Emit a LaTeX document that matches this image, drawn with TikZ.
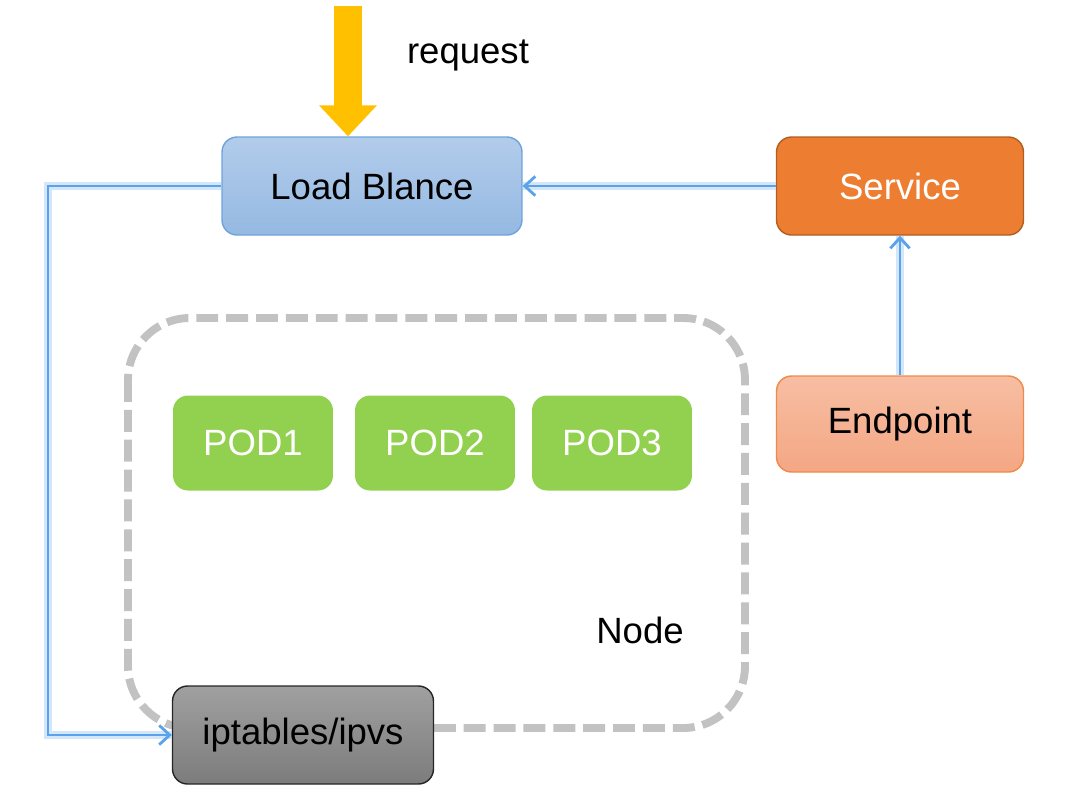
\documentclass[tikz,border=0pt]{standalone}
\usepackage{fontspec}
\setmainfont{Liberation Sans}
\usepackage{tikz}
\usetikzlibrary{arrows.meta}

\definecolor{lbtop}{HTML}{B2CCEB}
\definecolor{lbbot}{HTML}{95B9E2}
\definecolor{lbline}{HTML}{6FA3DC}
\definecolor{svcfill}{HTML}{ED7D31}
\definecolor{svcline}{HTML}{B05E22}
\definecolor{eptop}{HTML}{F7BEA3}
\definecolor{epbot}{HTML}{F4A783}
\definecolor{epline}{HTML}{F08A4B}
\definecolor{podfill}{HTML}{92D050}
\definecolor{iptop}{HTML}{A0A0A0}
\definecolor{ipbot}{HTML}{7C7C7C}
\definecolor{dashgray}{HTML}{C2C2C2}
\definecolor{linkblue}{HTML}{5AA2EA}
\definecolor{glowblue}{HTML}{C2DDF8}
\definecolor{reqyellow}{HTML}{FFC000}

\begin{document}
\begin{tikzpicture}[x=0.02cm,y=-0.02cm,
    font=\fontsize{20.8}{25}\selectfont,
    box/.style={rounded corners=0.3cm,inner sep=0pt,line width=0.8pt},
    link/.style={draw=linkblue,line width=1.6pt,-{Straight Barb[length=6pt,width=11pt]},
        preaction={draw=glowblue,line width=4.5pt,opacity=0.7,-}},
    nodebox/.style={draw=dashgray,line width=4.5pt,dash pattern=on 12.5pt off 4.5pt,rounded corners=1.24cm}]
    \useasboundingbox (0,0) rectangle (1080,796);
    % node area
    \draw[nodebox] (128,318) rectangle (745,728);
    \node at (640,630) (nodelabel) {Node};
    % boxes
    \node at (372,186) [box,draw=lbline,top color=lbtop,bottom color=lbbot,minimum width=6cm,minimum height=1.96cm] (lb) {Load Blance};
    \node at (900,186) [box,draw=svcline,fill=svcfill,text=white,minimum width=4.94cm,minimum height=1.96cm] (svc) {Service};
    \node at (900,424) [box,draw=epline,top color=eptop,bottom color=epbot,minimum width=4.94cm,minimum height=1.92cm] (ep) {Endpoint};
    \node at (253,443) [box,fill=podfill,text=white,minimum width=3.2cm,minimum height=1.9cm] (pod1) {POD1};
    \node at (435,443) [box,fill=podfill,text=white,minimum width=3.2cm,minimum height=1.9cm] (pod2) {POD2};
    \node at (612,443) [box,fill=podfill,text=white,minimum width=3.2cm,minimum height=1.9cm] (pod3) {POD3};
    \node at (303,735) [box,draw=black!85,top color=iptop,bottom color=ipbot,minimum width=5.22cm,minimum height=1.96cm] (ipt) {iptables/ipvs};
    % request
    \coordinate (req) at (348,6);
    \node at (468,55) (reqlabel) {request};
    \draw[reqyellow,line width=16.5pt,-{Triangle[length=17.6pt,width=31.8pt]}] (req) -- (req |- lb.north);
    % links
    \coordinate (bend) at (48,735);
    \draw[link] (svc.west) -- (lb.east);
    \draw[link] (ep.north) -- (svc.south);
    \draw[link] (lb.west) -| (bend) -- (ipt.west);
\end{tikzpicture}
\end{document}
